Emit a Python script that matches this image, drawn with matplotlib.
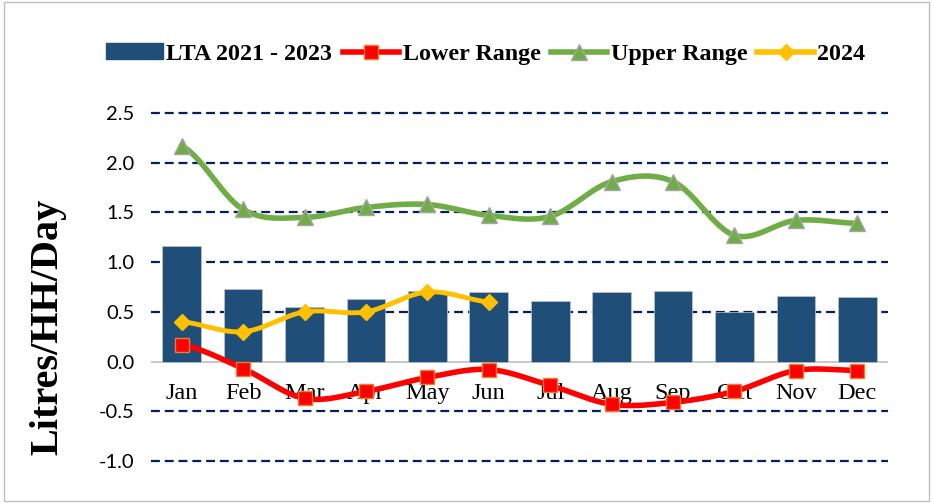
import numpy as np
import matplotlib
matplotlib.use('Agg')
import matplotlib.pyplot as plt
from matplotlib.patches import Patch, Rectangle
from matplotlib.lines import Line2D

months = ['Jan', 'Feb', 'Mar', 'Apr', 'May', 'Jun',
          'Jul', 'Aug', 'Sep', 'Oct', 'Nov', 'Dec']
lta = [1.16, 0.73, 0.55, 0.63, 0.71, 0.70, 0.61, 0.70, 0.71, 0.50, 0.66, 0.65]
lower = [0.17, -0.07, -0.37, -0.30, -0.16, -0.08, -0.24, -0.43, -0.41, -0.30, -0.09, -0.09]
upper = [2.17, 1.53, 1.45, 1.55, 1.58, 1.47, 1.46, 1.81, 1.81, 1.27, 1.42, 1.39]
y2024 = [0.40, 0.30, 0.50, 0.50, 0.70, 0.60]

SERIF = ['Liberation Serif', 'DejaVu Serif']
TICKFONT = ['Lato', 'Liberation Sans', 'DejaVu Sans']


def smooth(vals, n=30):
    # catmull-rom style smoothing like Excel "smoothed line"
    p = np.asarray(vals, dtype=float)
    xs, ys = [], []
    for i in range(len(p) - 1):
        p0 = p[i - 1] if i > 0 else p[i]
        p3 = p[i + 2] if i + 2 < len(p) else p[i + 1]
        m1 = (p[i + 1] - p0) / 2
        m2 = (p3 - p[i]) / 2
        t = np.linspace(0, 1, n)
        h00 = 2 * t**3 - 3 * t**2 + 1
        h10 = t**3 - 2 * t**2 + t
        h01 = -2 * t**3 + 3 * t**2
        h11 = t**3 - t**2
        xs.extend(i + t)
        ys.extend(h00 * p[i] + h10 * m1 + h01 * p[i + 1] + h11 * m2)
    return np.array(xs), np.array(ys)


fig = plt.figure(figsize=(9.33, 5.03), dpi=100)
ax = fig.add_axes([151 / 933, 1 - 461 / 503, 737 / 933, 348 / 503])

x = np.arange(len(months))
ax.set_xlim(-0.5, 11.5)
ax.set_ylim(-1.0, 2.5)

for v in [-1.0, -0.5, 0.5, 1.0, 1.5, 2.0, 2.5]:
    ax.axhline(v, color='#002060', lw=1.6, ls=(0, (4, 2.2)), zorder=0, clip_on=False)
ax.axhline(0, color='#BFBFBF', lw=1.2, zorder=1)

ax.bar(x, lta, width=0.63, color='#1F4E79', edgecolor='#C0C8D0', linewidth=0.5, zorder=2)

gx, gy = smooth(upper)
ax.plot(gx, gy, color='#70AD47', lw=4, zorder=4, solid_capstyle='round')
ax.plot(x, upper, ls='none', marker='^', ms=11, mfc='#70AD47', mec='#A5A5A5', mew=1, zorder=5)

rx, ry = smooth(lower)
ax.plot(rx, ry, color='#FF0000', lw=4, zorder=4, solid_capstyle='round')
ax.plot(x, lower, ls='none', marker='s', ms=9.5, mfc='#FF0000', mec='#ED7D31', mew=1, zorder=5)

yx, yy = smooth(y2024)
ax.plot(yx, yy, color='#FFC000', lw=3.5, zorder=4, solid_capstyle='round')
ax.plot(x[:len(y2024)], y2024, ls='none', marker='D', ms=8, mfc='#FFC000', mec='#FFC000', zorder=5)

for i, m in enumerate(months):
    ax.text(i, -0.32, m, ha='center', va='center', fontsize=17.5, family=SERIF, zorder=3)

for s in ax.spines.values():
    s.set_visible(False)
ax.set_xticks([])
ax.set_yticks([-1.0, -0.5, 0.0, 0.5, 1.0, 1.5, 2.0, 2.5])
ax.set_yticklabels(['%.1f' % v for v in ax.get_yticks()], family=TICKFONT, fontsize=14.5)
ax.tick_params(axis='y', length=0, pad=12)

fig.text(48 / 933, 1 - 327 / 503, 'Litres/HH/Day', rotation=90, ha='center', va='center',
         fontsize=29, fontweight='bold', family=SERIF)

handles = [
    Patch(facecolor='#1F4E79', edgecolor='#1F4E79'),
    Line2D([], [], color='#FF0000', lw=4, marker='s', ms=9.5, mfc='#FF0000', mec='#ED7D31'),
    Line2D([], [], color='#70AD47', lw=4, marker='^', ms=11, mfc='#70AD47', mec='#A5A5A5'),
    Line2D([], [], color='#FFC000', lw=4, marker='D', ms=8, mfc='#FFC000', mec='#FFC000'),
]
labels = ['LTA 2021 - 2023', 'Lower Range', 'Upper Range', '2024']
fig.legend(handles, labels, loc='center', bbox_to_anchor=(486 / 933, 1 - 54 / 503), ncol=4,
           frameon=False, handlelength=2.35, handleheight=0.6, handletextpad=0.15,
           columnspacing=0.42, borderpad=0,
           prop={'family': SERIF, 'weight': 'bold', 'size': 17.3})

fig.add_artist(Rectangle((0.004, 0.004), 0.992, 0.992, transform=fig.transFigure,
                         fill=False, edgecolor='#BFBFBF', lw=1))

fig.savefig('out.png', dpi=100)
